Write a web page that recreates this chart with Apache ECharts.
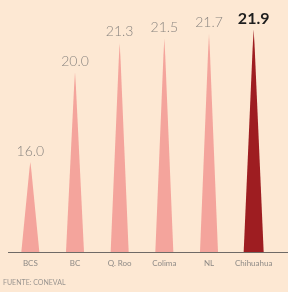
<!DOCTYPE html>
<html><head><meta charset="utf-8">
<script src="https://cdn.jsdelivr.net/npm/echarts@6/dist/echarts.min.js"></script>
<style>html,body{margin:0;padding:0;background:#fde8d3;}#c{width:288px;height:292px;}</style>
</head><body><div id="c"></div>
<script>
var categories = ['BCS', 'BC', 'Q. Roo', 'Colima', 'NL', 'Chihuahua'];
var values = [16.0, 20.0, 21.3, 21.5, 21.7, 21.9];
var highlight = 'Chihuahua';
var source = 'FUENTE: CONEVAL';
var axisBase = 12;

var spike = 'path://M0,100 L45,8 L50,0 L55,8 L100,100 Z';

var data = values.map(function(v,i){
  var hi = categories[i] === highlight;
  return {
    value: v - axisBase,
    symbolSize: hi ? [20,'100%'] : [18,'100%'],
    itemStyle: {color: hi ? '#9e1d21' : '#f4a49c'},
    label: hi ? {color:'#1e1e1e', fontWeight:'bold', fontSize:16, distance:3} : {}
  };
});

var chart = echarts.init(document.getElementById('c'), null, {renderer:'canvas'});
chart.setOption({
  backgroundColor:'#fde8d3',
  animation:false,
  grid:{left:8, right:12, top:16, bottom:40},
  xAxis:{
    type:'category', data:categories,
    axisLine:{show:false}, axisTick:{show:false},
    axisLabel:{color:'#8e8a86', fontSize:8, fontFamily:'Lato', margin:7, interval:0}
  },
  yAxis:{type:'value', min:0, max:10.5, show:false, splitLine:{show:false}},
  series:[{
    type:'pictorialBar',
    symbol: spike,
    symbolSize:[18,'100%'],
    symbolPosition:'start',
    data:data,
    label:{show:true, position:'top', distance:4, color:'#8a8580', fontSize:14, fontFamily:'Lato', fontWeight:300,
      formatter:function(p){return values[p.dataIndex].toFixed(1);}}
  }],
  graphic:[
    {type:'line', shape:{x1:8,y1:252.5,x2:288,y2:252.5}, style:{stroke:'#6f6a66', lineWidth:1}},
    {type:'text', left:3, top:279, style:{text:source, fill:'#9a9590', fontSize:7, fontFamily:'Lato'}}
  ]
});
</script></body></html>
